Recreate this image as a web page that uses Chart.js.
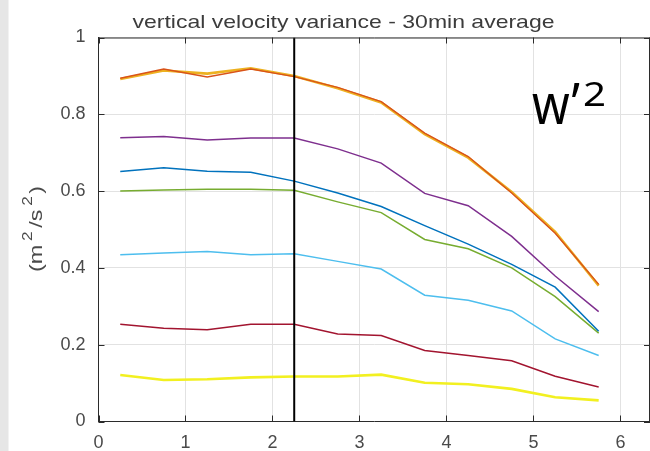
<!DOCTYPE html>
<html>
<head>
<meta charset="utf-8">
<script src="https://cdn.jsdelivr.net/npm/chart.js@4.4.1/dist/chart.umd.min.js"></script>
<style>
  html, body { margin: 0; padding: 0; overflow: hidden; background: #fff; }
  #wrap { position: relative; width: 650px; height: 451px; }
  canvas { display: block; }
</style>
</head>
<body>
<div id="wrap"><canvas id="c" width="650" height="451"></canvas></div>
<script>
// sample positions along the horizontal axis
const xPositions = [0.25, 0.75, 1.25, 1.75, 2.25, 2.75, 3.25, 3.75, 4.25, 4.75, 5.25, 5.75];

// variance curves (m^2/s^2)
const orangeVals = [0.894, 0.918, 0.897, 0.918, 0.898, 0.870, 0.833, 0.751, 0.690, 0.595, 0.490, 0.357];
const amberVals  = [0.892, 0.914, 0.906, 0.920, 0.900, 0.868, 0.831, 0.748, 0.687, 0.598, 0.494, 0.354];
const purpleVals = [0.739, 0.742, 0.733, 0.738, 0.738, 0.710, 0.673, 0.594, 0.562, 0.482, 0.379, 0.286];
const blueVals   = [0.651, 0.661, 0.652, 0.649, 0.626, 0.595, 0.560, 0.510, 0.462, 0.409, 0.350, 0.235];
const greenVals  = [0.600, 0.603, 0.605, 0.605, 0.602, 0.572, 0.544, 0.474, 0.450, 0.400, 0.325, 0.230];
const skyVals    = [0.434, 0.439, 0.443, 0.434, 0.437, 0.417, 0.397, 0.329, 0.316, 0.288, 0.215, 0.172];
const maroonVals = [0.253, 0.243, 0.239, 0.253, 0.253, 0.228, 0.224, 0.185, 0.172, 0.158, 0.118, 0.090];
const yellowVals = [0.121, 0.108, 0.110, 0.115, 0.117, 0.117, 0.122, 0.101, 0.097, 0.085, 0.063, 0.055];

// axes
const xTicks = [0, 1, 2, 3, 4, 5, 6];
const yTicks = [0, 0.2, 0.4, 0.6, 0.8, 1];
const xMin = 0, xMax = 6.34;
const yMin = 0, yMax = 1;
const splitX = 2.25;

const chartTitle = 'vertical velocity variance - 30min average';
const yTitleParts = ['(m', '2', '/s', '2', ')'];
const cornerLabel = ['w\u2019', '2'];

const series = [
  { vals: orangeVals, color: '#D95319', width: 1.4, order: 1 },
  { vals: amberVals,  color: '#EDB120', width: 2.6, order: 2 },
  { vals: purpleVals, color: '#7E2F8E', width: 1.5, order: 3 },
  { vals: blueVals,   color: '#0072BD', width: 1.5, order: 4 },
  { vals: greenVals,  color: '#77AC30', width: 1.5, order: 5 },
  { vals: skyVals,    color: '#4DBEEE', width: 1.5, order: 6 },
  { vals: maroonVals, color: '#A2142F', width: 1.5, order: 7 },
  { vals: yellowVals, color: '#F2F020', width: 2.6, order: 8 }
];

const datasets = series.map(s => ({
  data: xPositions.map((x, i) => ({ x: x, y: s.vals[i] })),
  borderColor: s.color,
  borderWidth: s.width,
  pointRadius: 0,
  tension: 0,
  fill: false,
  order: s.order
}));

// vertical divider
datasets.push({
  data: [{ x: splitX, y: yMin }, { x: splitX, y: yMax }],
  borderColor: '#000',
  borderWidth: 2,
  pointRadius: 0,
  fill: false,
  order: 0
});

const AXIS_COLOR = '#2b2b2b';
const TICK_LEN = 6;

// draw text stretched horizontally to a given width
function fitText(ctx, text, font, x, y, width, align) {
  ctx.font = font;
  const w = ctx.measureText(text).width;
  const k = width / w;
  ctx.save();
  ctx.translate(x, y);
  ctx.scale(k, 1);
  ctx.textAlign = 'left';
  ctx.fillText(text, align === 'center' ? -w / 2 : 0, 0);
  ctx.restore();
}

const decorations = {
  id: 'decorations',
  beforeDraw(chart) {
    const { ctx, width, height } = chart;
    ctx.save();
    ctx.fillStyle = '#ffffff';
    ctx.fillRect(0, 0, width, height);
    ctx.fillStyle = '#e6e6e6';
    ctx.fillRect(0, 0, 8.5, height);
    ctx.restore();
  },
  afterDraw(chart) {
    const { ctx, chartArea: a, scales } = chart;
    const xs = scales.x, ys = scales.y;
    ctx.save();
    // box and inward tick marks
    ctx.strokeStyle = AXIS_COLOR;
    ctx.lineWidth = 1;
    ctx.beginPath();
    ctx.moveTo(a.left, a.top + 0.5);
    ctx.lineTo(a.right, a.top + 0.5);
    ctx.moveTo(a.right - 0.5, a.top);
    ctx.lineTo(a.right - 0.5, a.bottom);
    xTicks.forEach(v => {
      const px = Math.round(xs.getPixelForValue(v)) + 0.5;
      ctx.moveTo(px, a.bottom);
      ctx.lineTo(px, a.bottom - TICK_LEN);
      ctx.moveTo(px, a.top);
      ctx.lineTo(px, a.top + TICK_LEN);
    });
    yTicks.forEach(v => {
      const py = Math.round(ys.getPixelForValue(v)) + 0.5;
      ctx.moveTo(a.left, py);
      ctx.lineTo(a.left + TICK_LEN, py);
      ctx.moveTo(a.right, py);
      ctx.lineTo(a.right - TICK_LEN, py);
    });
    ctx.stroke();

    // title
    ctx.fillStyle = '#3c3c3c';
    ctx.textBaseline = 'alphabetic';
    fitText(ctx, chartTitle, '19px "Liberation Sans"', 343.5, 27.5, 422, 'center');

    // corner label
    ctx.fillStyle = '#000';
    fitText(ctx, cornerLabel[0], '56px "Noto Sans"', 532, 124, 48, 'left');
    fitText(ctx, cornerLabel[1], '33px "Noto Sans"', 583, 106, 23, 'left');

    // rotated unit label
    ctx.fillStyle = '#4a4a4a';
    const mainFont = '19px "Liberation Sans"';
    const supFont = '14px "Liberation Sans"';
    const gaps = [0, 3, 3, 3, 2];
    const widths = yTitleParts.map((t, i) => {
      ctx.font = i % 2 === 1 ? supFont : mainFont;
      return ctx.measureText(t).width;
    });
    let natural = 0;
    widths.forEach((w, i) => { natural += w + gaps[i]; });
    const target = 86;
    const k = target / natural;
    ctx.save();
    ctx.translate(33, 229);
    ctx.rotate(-Math.PI / 2);
    ctx.scale(k, 1);
    let u = -natural / 2;
    yTitleParts.forEach((t, i) => {
      u += gaps[i];
      const sup = i % 2 === 1;
      ctx.font = sup ? supFont : mainFont;
      ctx.textAlign = 'left';
      ctx.fillText(t, u, sup ? -1 : 8.5);
      u += widths[i];
    });
    ctx.restore();
    ctx.restore();
  }
};

const tickFont = { family: '"Liberation Sans", Arial, sans-serif', size: 18 };

new Chart(document.getElementById('c'), {
  type: 'line',
  data: { datasets: datasets },
  plugins: [decorations],
  options: {
    responsive: false,
    animation: false,
    devicePixelRatio: 1,
    layout: { padding: { top: 37.5, left: 0, right: 0, bottom: 0 } },
    plugins: {
      legend: { display: false },
      title: { display: false },
      tooltip: { enabled: false }
    },
    scales: {
      x: {
        type: 'linear',
        min: xMin,
        max: xMax,
        afterBuildTicks: s => { s.ticks = xTicks.map(v => ({ value: v })); },
        afterFit: s => { s.height = 29.5; },
        grid: { color: '#e2e2e2', lineWidth: 1, drawTicks: false },
        border: { display: true, color: AXIS_COLOR, width: 1 },
        ticks: {
          font: tickFont,
          color: '#4a4a4a',
          padding: 11,
          maxRotation: 0,
          autoSkip: false,
          callback: v => String(v)
        }
      },
      y: {
        type: 'linear',
        min: yMin,
        max: yMax,
        afterBuildTicks: s => { s.ticks = yTicks.map(v => ({ value: v })); },
        afterFit: s => { s.width = 98.5; },
        grid: { color: '#e2e2e2', lineWidth: 1, drawTicks: false },
        border: { display: true, color: AXIS_COLOR, width: 1 },
        ticks: {
          font: tickFont,
          color: '#4a4a4a',
          padding: 13,
          autoSkip: false,
          callback: v => (v === 0 || v === 1) ? String(v) : v.toFixed(1)
        }
      }
    }
  }
});
</script>
</body>
</html>
